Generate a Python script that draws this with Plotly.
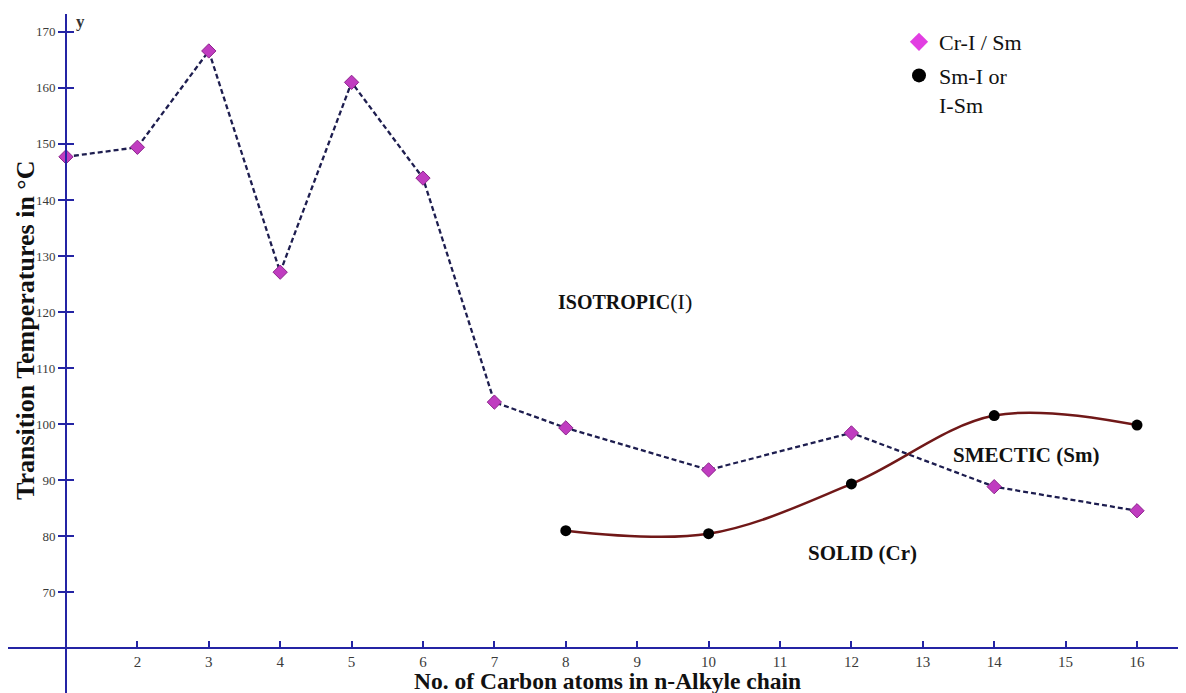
import plotly.graph_objects as go

# Data
carbons_cr = [1, 2, 3, 4, 5, 6, 7, 8, 10, 12, 14, 16]
temp_cr = [147.7, 149.4, 166.6, 127.1, 161.0, 143.9, 103.9, 99.3, 91.8, 98.4, 88.8, 84.5]

carbons_sm = [8, 10, 12, 14, 16]
temp_sm = [80.95, 80.4, 89.3, 101.5, 99.8]

x_ticks = list(range(2, 17))
y_ticks = list(range(70, 171, 10))

legend_cr = "Cr-I / Sm"
legend_sm = "Sm-I or<br>I-Sm"

# page body adds an 8px offset; target coordinates below are reference pixels
OFF = 8
W, H = 1178, 685
ML, MR, MT, MB = 0, 0, 6, 0
X_RANGE = [0.188, 16.686]
Y_RANGE = [51.96, 173.2]
X_AXIS_AT = 60.0
Y_AXIS_AT = 1.0

AXIS_BLUE = "#2424a4"
SERIF = "Liberation Serif"


def px_to_paper_x(px):
    return (px - OFF - ML) / (W - ML - MR)


def px_to_paper_y(py):
    return (H - MB - (py - OFF)) / (H - MT - MB)


fig = go.Figure()

fig.add_trace(go.Scatter(
    x=carbons_cr, y=temp_cr, mode="lines+markers",
    line=dict(color="#1d1d4f", width=2.3, dash="5px,3px"),
    marker=dict(symbol="diamond", size=11, color="#c03cc0",
                line=dict(color="#8c248c", width=1)),
    showlegend=False,
))
fig.add_trace(go.Scatter(
    x=carbons_sm, y=temp_sm, mode="lines+markers",
    line=dict(color="#701818", width=2.5, shape="spline", smoothing=1.0),
    marker=dict(symbol="circle", size=11, color="#000000"),
    showlegend=False,
))
# legend-only entries (markers only, like the reference)
fig.add_trace(go.Scatter(
    x=[None], y=[None], mode="markers", name=legend_cr, legendgroup="a",
    marker=dict(symbol="diamond", size=14, color="#e23ee2"),
))
fig.add_trace(go.Scatter(
    x=[None], y=[None], mode="markers", name=legend_sm, legendgroup="b",
    marker=dict(symbol="circle", size=14, color="#000000"),
))

x_pos = (X_AXIS_AT - Y_RANGE[0]) / (Y_RANGE[1] - Y_RANGE[0])
y_pos = (Y_AXIS_AT - X_RANGE[0]) / (X_RANGE[1] - X_RANGE[0])

fig.update_layout(
    width=W, height=H,
    margin=dict(l=ML, r=MR, t=MT, b=MB),
    paper_bgcolor="white", plot_bgcolor="white",
    font=dict(family=SERIF, color="#222"),
    xaxis=dict(
        range=X_RANGE, anchor="free", position=x_pos,
        showgrid=False, zeroline=False,
        showline=True, linecolor=AXIS_BLUE, linewidth=2,
        tickmode="array", tickvals=x_ticks, ticktext=[str(v) for v in x_ticks],
        ticks="inside", ticklen=6, tickwidth=1.5, tickcolor=AXIS_BLUE,
        tickfont=dict(family=SERIF, size=15, color="#3a3a3a"),
    ),
    yaxis=dict(
        range=Y_RANGE, anchor="free", position=y_pos,
        showgrid=False, zeroline=False,
        showline=True, linecolor=AXIS_BLUE, linewidth=2,
        tickmode="array", tickvals=y_ticks, ticktext=[str(v) for v in y_ticks],
        ticks="outside", ticklen=7, tickwidth=1.5, tickcolor=AXIS_BLUE,
        tickfont=dict(family=SERIF, size=13, color="#3a3a3a"),
    ),
    yaxis2=dict(
        range=Y_RANGE, overlaying="y", anchor="free", position=y_pos,
        showgrid=False, zeroline=False, showline=False,
        tickmode="array", tickvals=y_ticks, showticklabels=False,
        ticks="inside", ticklen=7, tickwidth=1.5, tickcolor=AXIS_BLUE,
    ),
    legend=dict(
        x=px_to_paper_x(899), y=px_to_paper_y(21), xanchor="left", yanchor="top",
        font=dict(family=SERIF, size=22, color="#111"),
        bgcolor="rgba(0,0,0,0)", traceorder="grouped", tracegroupgap=2,
        valign="top",
    ),
    showlegend=True,
)

# dummy trace on yaxis2 so it renders
fig.add_trace(go.Scatter(x=[None], y=[None], yaxis="y2", showlegend=False))

annotations = [
    dict(text="<b>Transition Temperatures in °C</b>", x=px_to_paper_x(25), y=px_to_paper_y(330),
         xref="paper", yref="paper", textangle=-90, showarrow=False,
         xanchor="center", yanchor="middle",
         font=dict(family=SERIF, size=26, color="#111")),
    dict(text="<b>No. of Carbon atoms in n-Alkyle chain</b>", x=px_to_paper_x(607), y=px_to_paper_y(681),
         xref="paper", yref="paper", showarrow=False,
         xanchor="center", yanchor="middle",
         font=dict(family=SERIF, size=23.5, color="#111")),
    dict(text="<b>y</b>", x=px_to_paper_x(80), y=px_to_paper_y(22),
         xref="paper", yref="paper", showarrow=False,
         xanchor="center", yanchor="middle",
         font=dict(family=SERIF, size=17, color="#333")),
    dict(text="<b>ISOTROPIC</b><span style='font-size:22px'>(I)</span>", x=8.83, y=121.8,
         xref="x", yref="y", showarrow=False, xanchor="center", yanchor="middle",
         font=dict(family=SERIF, size=20, color="#111")),
    dict(text="<b>SMECTIC (Sm)</b>", x=14.45, y=94.5,
         xref="x", yref="y", showarrow=False, xanchor="center", yanchor="middle",
         font=dict(family=SERIF, size=21, color="#111")),
    dict(text="<b>SOLID (Cr)</b>", x=12.15, y=77.0,
         xref="x", yref="y", showarrow=False, xanchor="center", yanchor="middle",
         font=dict(family=SERIF, size=21, color="#111")),
]
fig.update_layout(annotations=annotations)

fig.write_html("out.html")
